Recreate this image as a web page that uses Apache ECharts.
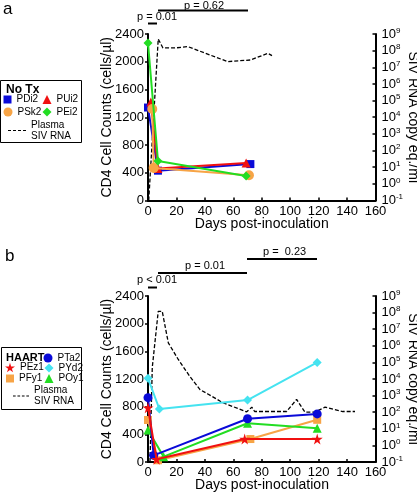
<!DOCTYPE html>
<html>
<head>
<meta charset="utf-8">
<script src="https://cdn.jsdelivr.net/npm/echarts@6/dist/echarts.min.js"></script>
<style>html,body{margin:0;padding:0;background:#fff}#c{width:417px;height:493px}</style>
</head>
<body>
<div id="c"></div>
<script>
// ---------- DATA ----------
const xTicks = [0, 20, 40, 60, 80, 100, 120, 140, 160];
const cd4Ticks = [0, 400, 800, 1200, 1600, 2000, 2400];
const xTitle = 'Days post-inoculation';

// Panel a (No Tx)
const aPDi2Days = [0, 7, 72];      const aPDi2 = [1340, 430, 525];
const aPUi2Days = [2, 7, 69];      const aPUi2 = [1420, 460, 540];
const aPSk2Days = [3, 4, 71];      const aPSk2 = [1320, 470, 365];
const aPEi2Days = [0, 7, 69];      const aPEi2 = [2270, 570, 353];
const aRnaDays = [0.5, 7.2, 10.5, 19, 28, 43.6, 56, 72, 84.4, 87.2];
const aRna = [0.1, 5e8, 1.45e8, 1.45e8, 1.75e8, 5.5e7, 2.2e7, 2.75e7, 6.9e7, 5e7];

// Panel b (HAART)
const bPTa2Days = [0, 4, 70, 119];  const bPTa2 = [930, 95, 625, 695];
const bPEz1Days = [0, 6, 68, 119];  const bPEz1 = [785, 40, 332, 332];
const bPYd2Days = [0, 8, 70, 119];  const bPYd2 = [1210, 766, 896, 1440];
const bPFy1Days = [0, 7, 72, 119];  const bPFy1 = [607, 25, 332, 610];
const bPOy1Days = [0, 11, 70, 119]; const bPOy1 = [462, 77, 560, 487];
const bRnaDays = [1.4, 3, 7.2, 10, 14.3, 21.3, 29.5, 36.6, 42.4, 52.7, 69.4, 73, 75, 97.5, 104.5, 110.4, 117.4, 124.5, 137, 145.6];
const bRna = [0.1, 4.9e4, 1.2e8, 1.2e8, 1.5e6, 1.5e5, 1.4e4, 2.3e3, 1.2e3, 370, 105, 200, 110, 110, 590, 100, 100, 200, 110, 110];

// ---------- STYLE ----------
const FONT = 'Liberation Sans, Arial, sans-serif';
const BLUE = '#0a0ad8', RED = '#f01010', ORANGE = '#f7a446', GREEN = '#22dd22', CYAN = '#45e3f0';
const STAR = 'path://M50,0 L61,35 L98,35 L68,57 L79,91 L50,70 L21,91 L32,57 L2,35 L39,35 Z';
const DASHES = 'path://M0,0 L3,0 L3,1 L0,1 Z M5,0 L8,0 L8,1 L5,1 Z M10,0 L13,0 L13,1 L10,1 Z M15,0 L18,0 L18,1 L15,1 Z';

function zip(d, v) { return d.map((x, i) => [x, v[i]]); }

const chart = echarts.init(document.getElementById('c'), null, {renderer: 'canvas'});

function xAxisDef(g, withName, showLabels) {
  return {
    gridIndex: g, type: 'value', min: xTicks[0], max: xTicks[xTicks.length - 1], interval: 20,
    name: withName ? xTitle : '', nameLocation: 'middle', nameGap: 18, nameMoveOverlap: false,
    nameTextStyle: {fontFamily: FONT, fontSize: 14, color: '#000', lineHeight: 12},
    axisLine: {onZero: false, lineStyle: {color: '#000', width: 2}},
    axisTick: {show: true, inside: true, length: 3, lineStyle: {color: '#000', width: 1.5}},
    axisLabel: {show: showLabels, fontFamily: FONT, fontSize: 13, color: '#000', margin: 4, lineHeight: 13, formatter: v => String(v)},
    splitLine: {show: false}
  };
}
function yLeft(g) {
  return {
    gridIndex: g, type: 'value', position: 'left', min: cd4Ticks[0], max: cd4Ticks[cd4Ticks.length - 1], interval: 400,
    name: 'CD4 Cell Counts (cells/\u00b5l)', nameLocation: 'middle', nameGap: 34, nameMoveOverlap: false,
    nameTextStyle: {fontFamily: FONT, fontSize: 14, color: '#000'},
    axisLine: {show: true, lineStyle: {color: '#000', width: 2}},
    axisTick: {show: true, length: 3, lineStyle: {color: '#000', width: 1.5}},
    axisLabel: {fontFamily: FONT, fontSize: 13, color: '#000', margin: 4, formatter: v => String(v)},
    splitLine: {show: false}
  };
}
function yRight(g) {
  return {
    gridIndex: g, type: 'log', logBase: 10, position: 'right', min: 0.1, max: 1e9, interval: 1,
    name: 'SIV RNA copy eq./ml', nameLocation: 'middle', nameGap: 30, nameRotate: -90, nameMoveOverlap: false,
    nameTextStyle: {fontFamily: FONT, fontSize: 14, color: '#000', lineHeight: 14},
    axisLine: {show: true, lineStyle: {color: '#000', width: 2}},
    axisTick: {show: true, inside: true, length: 3, lineStyle: {color: '#000', width: 1.5}},
    axisLabel: {
      margin: 6,
      formatter: function (v) { const e = Math.round(Math.log10(v)); return '{a|10}{b|' + e + '}'; },
      rich: {
        a: {fontFamily: FONT, fontSize: 13, color: '#000'},
        b: {fontFamily: FONT, fontSize: 8, color: '#000', padding: [0, 0, 7, 0]}
      }
    },
    splitLine: {show: false}
  };
}

function ser(name, days, vals, xi, yi, color, symbol, size, z) {
  return {
    name: name, type: 'line', xAxisIndex: xi, yAxisIndex: yi, data: zip(days, vals),
    symbol: symbol, symbolSize: size, color: color, z: z || 2,
    lineStyle: {color: color, width: 2}, itemStyle: {color: color}, emphasis: {disabled: true}
  };
}
function rna(days, vals, xi, yi) {
  return {
    name: 'Plasma SIV RNA', type: 'line', xAxisIndex: xi, yAxisIndex: yi, data: zip(days, vals),
    symbol: 'none', color: '#000', z: 1,
    lineStyle: {color: '#000', width: 1.3, type: [4, 2]}, emphasis: {disabled: true}
  };
}

const legBase = {padding: 0, itemWidth: 8, itemHeight: 8, itemGap: 0, selectedMode: false,
  textStyle: {fontFamily: FONT, fontSize: 10, color: '#000', lineHeight: 11},
  formatter: function (n) { return n === 'Plasma SIV RNA' ? 'Plasma\nSIV RNA' : n; }};
function leg(name, icon, left, top, extra) {
  return Object.assign({}, legBase, {data: [{name: name, icon: icon}], left: left, top: top, z: 10}, extra || {});
}

const gridBase = {containLabel: false, outerBoundsMode: 'auto', outerBoundsContain: 'axisLabel',
  outerBounds: {left: 0, top: 0, right: 0, bottom: 0}};

const option = {
  animation: false,
  backgroundColor: '#fff',
  grid: [
    Object.assign({left: 148, top: 34, width: 227.5, height: 166.5}, gridBase),
    Object.assign({left: 148, top: 296, width: 227.5, height: 166}, gridBase)
  ],
  xAxis: [xAxisDef(0, true, true), xAxisDef(1, false, false)],
  yAxis: [yLeft(0), yRight(0), yLeft(1), yRight(1)],
  legend: [
    leg('PDi2', 'rect', 3.5, 94),
    leg('PUi2', 'triangle', 42.5, 94, {itemWidth: 9, itemHeight: 9}),
    leg('PSk2', 'circle', 3.5, 106.5, {itemWidth: 9, itemHeight: 9}),
    leg('PEi2', 'diamond', 42.5, 106.5, {itemWidth: 9, itemHeight: 9}),
    leg('Plasma SIV RNA', DASHES, 8, 119.5, {itemWidth: 18, itemHeight: 1.3}),
    leg('PTa2', 'circle', 43.5, 352.5, {itemWidth: 9, itemHeight: 9}),
    leg('PEz1', STAR, 5, 362, {itemWidth: 10, itemHeight: 10}),
    leg('PYd2', 'diamond', 44.5, 362.5, {itemWidth: 9, itemHeight: 9}),
    leg('PFy1', 'rect', 6, 373),
    leg('POy1', 'triangle', 44.5, 373, {itemWidth: 9, itemHeight: 9}),
    leg('Plasma SIV RNA', DASHES, 13, 385, {itemWidth: 16, itemHeight: 1.3})
  ],
  graphic: [
    {type: 'text', left: 3, top: 1, style: {text: 'a', font: '17px ' + FONT, fill: '#000'}},
    {type: 'text', left: 5, top: 248, style: {text: 'b', font: '17px ' + FONT, fill: '#000'}},
    {type: 'text', x: 262, y: 485.5, style: {text: xTitle, font: '14px ' + FONT, fill: '#000', align: 'center', verticalAlign: 'middle'}},
    {type: 'rect', shape: {x: 0.5, y: 80.5, width: 81, height: 62}, style: {fill: '#fff', stroke: '#000', lineWidth: 1}, z: 1},
    {type: 'text', left: 6, top: 84, style: {text: 'No Tx', font: 'bold 12px ' + FONT, fill: '#000'}, z: 2},
    {type: 'rect', shape: {x: 1.5, y: 347.5, width: 80, height: 62}, style: {fill: '#fff', stroke: '#000', lineWidth: 1}, z: 1},
    {type: 'text', left: 6, top: 352.5, style: {text: 'HAART', font: 'bold 11px ' + FONT, fill: '#000'}, z: 2},
    // p-value brackets panel a
    {type: 'text', left: 137, top: 11, style: {text: 'p = 0.01', font: '11px ' + FONT, fill: '#000'}},
    {type: 'line', shape: {x1: 148, y1: 23.5, x2: 157, y2: 23.5}, style: {stroke: '#000', lineWidth: 2}},
    {type: 'text', left: 184, top: 0, style: {text: 'p = 0.62', font: '11px ' + FONT, fill: '#000'}},
    {type: 'line', shape: {x1: 158, y1: 10.5, x2: 248, y2: 10.5}, style: {stroke: '#000', lineWidth: 2}},
    // p-value brackets panel b
    {type: 'text', left: 137, top: 274, style: {text: 'p < 0.01', font: '11px ' + FONT, fill: '#000'}},
    {type: 'line', shape: {x1: 148, y1: 287.5, x2: 157, y2: 287.5}, style: {stroke: '#000', lineWidth: 2}},
    {type: 'text', left: 185, top: 260, style: {text: 'p = 0.01', font: '11px ' + FONT, fill: '#000'}},
    {type: 'line', shape: {x1: 158, y1: 273, x2: 247, y2: 273}, style: {stroke: '#000', lineWidth: 2}},
    {type: 'text', left: 263, top: 246, style: {text: 'p =  0.23', font: '11px ' + FONT, fill: '#000'}},
    {type: 'line', shape: {x1: 247, y1: 259, x2: 317, y2: 259}, style: {stroke: '#000', lineWidth: 2}}
  ],
  series: [
    rna(aRnaDays, aRna, 0, 1),
    ser('PDi2', aPDi2Days, aPDi2, 0, 0, BLUE, 'rect', 8, 2),
    ser('PUi2', aPUi2Days, aPUi2, 0, 0, RED, 'triangle', 9, 3),
    ser('PSk2', aPSk2Days, aPSk2, 0, 0, ORANGE, 'circle', 10, 4),
    ser('PEi2', aPEi2Days, aPEi2, 0, 0, GREEN, 'diamond', 9, 5),
    rna(bRnaDays, bRna, 1, 3),
    ser('PFy1', bPFy1Days, bPFy1, 1, 2, ORANGE, 'rect', 8, 2),
    ser('POy1', bPOy1Days, bPOy1, 1, 2, GREEN, 'triangle', 9, 3),
    ser('PYd2', bPYd2Days, bPYd2, 1, 2, CYAN, 'diamond', 9, 4),
    ser('PTa2', bPTa2Days, bPTa2, 1, 2, BLUE, 'circle', 9, 5),
    ser('PEz1', bPEz1Days, bPEz1, 1, 2, RED, STAR, 11, 6)
  ]
};
chart.setOption(option);

// Panel b tick labels placed through the library's own x scale
const baseY = chart.convertToPixel({yAxisIndex: 2}, 0);
const tickLabels = xTicks.map(v => ({
  type: 'text',
  x: chart.convertToPixel({xAxisIndex: 1}, v),
  y: baseY + 4,
  style: {text: String(v), font: '13px ' + FONT, fill: '#000', align: 'center', verticalAlign: 'top'}
}));
chart.setOption({graphic: option.graphic.concat(tickLabels)});
</script>
</body>
</html>
